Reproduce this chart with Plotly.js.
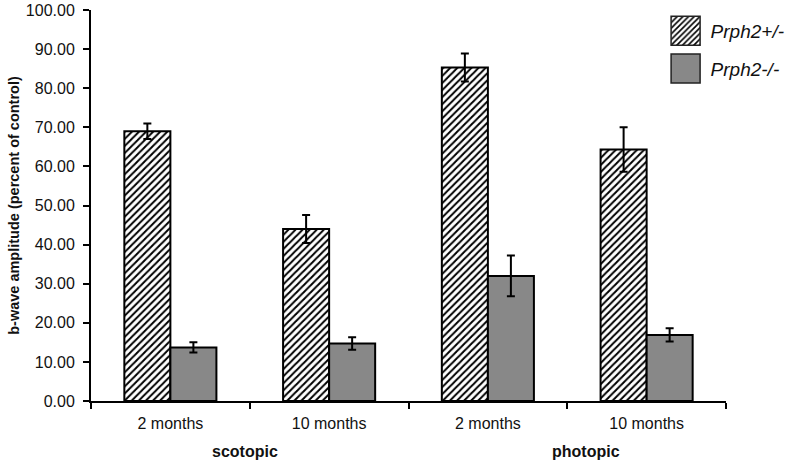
<!DOCTYPE html>
<html>
<head>
<meta charset="utf-8">
<script src="https://cdn.plot.ly/plotly-3.0.1.min.js"></script>
<style>html,body{margin:0;padding:0;background:#fff;}</style>
</head>
<body>
<div id="chart" style="width:800px;height:462px;"></div>
<script>
// Data
const categories = ['sc2', 'sc10', 'ph2', 'ph10'];
const tickLabels = ['2 months', '10 months', '2 months', '10 months'];
const groupLabels = ['scotopic', 'photopic'];
const seriesNames = ['Prph2+/-', 'Prph2-/-'];
const hetValues = [69.0, 44.0, 85.3, 64.3];
const hetErrors = [2.0, 3.6, 3.6, 5.7];
const koValues = [13.7, 14.7, 32.0, 16.9];
const koErrors = [1.3, 1.6, 5.2, 1.7];

const font = 'Liberation Sans, Arial, Helvetica, sans-serif';

const traces = [
  {
    type: 'bar', name: seriesNames[0], x: categories, y: hetValues,
    legendgroup: 'a',
    marker: {color: '#ffffff', line: {color: '#000', width: 2},
             pattern: {shape: '/', fgcolor: '#000', bgcolor: '#fff', size: 5, solidity: 0.4}},
    error_y: {type: 'data', array: hetErrors, visible: true, color: '#000', thickness: 2, width: 4}
  },
  {
    type: 'bar', name: seriesNames[1], x: categories, y: koValues,
    legendgroup: 'b',
    marker: {color: '#888888', line: {color: '#000', width: 2}},
    error_y: {type: 'data', array: koErrors, visible: true, color: '#000', thickness: 2, width: 4}
  }
];

const layout = {
  width: 800, height: 462,
  margin: {l: 91, r: 69, t: 10, b: 61},
  paper_bgcolor: '#fff', plot_bgcolor: '#fff',
  font: {family: font, color: '#111', size: 16},
  barmode: 'group', bargap: 0.42, bargroupgap: 0,
  showlegend: true,
  legend: {x: 0.897, xanchor: 'left', y: 0.995, yanchor: 'top',
           font: {family: font, size: 19, style: 'italic', color: '#111'},
           itemwidth: 40, traceorder: 'grouped', tracegroupgap: 10,
           bgcolor: 'rgba(0,0,0,0)'},
  xaxis: {
    type: 'category', categoryorder: 'array', categoryarray: categories,
    tickmode: 'array', tickvals: categories, ticktext: tickLabels,
    tickson: 'boundaries', ticks: 'outside', ticklen: 6, tickwidth: 2, tickcolor: '#000',
    ticklabelstandoff: 7,
    showline: true, linecolor: '#000', linewidth: 2, showgrid: false, zeroline: false,
    tickfont: {family: font, size: 16, color: '#111'},
    range: [-0.5, 3.5], fixedrange: true
  },
  yaxis: {
    range: [0, 100], tickmode: 'linear', tick0: 0, dtick: 10, tickformat: '.2f',
    ticks: 'outside', ticklen: 6, tickwidth: 2, tickcolor: '#000',
    ticklabelstandoff: 5,
    showline: true, linecolor: '#000', linewidth: 2, showgrid: false, zeroline: false,
    tickfont: {family: font, size: 16, color: '#111'},
    title: {text: '<b>b-wave amplitude (percent of control)</b>', font: {family: font, size: 14.5, color: '#111'}, standoff: 3},
    fixedrange: true
  },
  annotations: [
    {x: 0.47, xref: 'x', y: -0.129, yref: 'paper', text: '<b>' + groupLabels[0] + '</b>', showarrow: false,
     font: {family: font, size: 16, color: '#111'}, xanchor: 'center', yanchor: 'middle'},
    {x: 2.62, xref: 'x', y: -0.129, yref: 'paper', text: '<b>' + groupLabels[1] + '</b>', showarrow: false,
     font: {family: font, size: 16, color: '#111'}, xanchor: 'center', yanchor: 'middle'}
  ]
};

Plotly.newPlot('chart', traces, layout, {displayModeBar: false, staticPlot: true}).then(function () {
  document.querySelectorAll('.legend .legendpoints path').forEach(function (p) {
    p.setAttribute('d', 'M14.5,14.5H-14.5V-14.5H14.5Z');
    p.style.strokeWidth = '1.5px';
    p.style.stroke = '#222';
  });
  document.querySelectorAll('.legend [clip-path]').forEach(function (e) {
    e.removeAttribute('clip-path');
  });
});
</script>
</body>
</html>
